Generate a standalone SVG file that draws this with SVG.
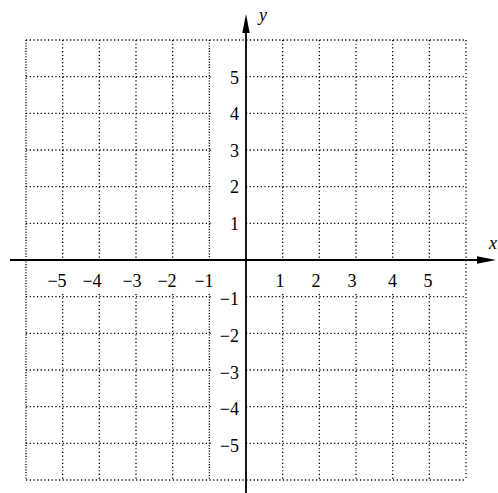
<svg xmlns="http://www.w3.org/2000/svg" width="498" height="493" viewBox="0 0 498 493">
<style>
.g{stroke:#000;stroke-width:1.3;stroke-dasharray:1.2 2.47;fill:none}
.gd{stroke:#000;stroke-width:1.3;stroke-dasharray:1.1 1.6;fill:none}
.ax{stroke:#000;stroke-width:1.8;fill:none}
text{font-family:'Liberation Serif','DejaVu Serif',serif;font-size:18px;fill:#000}
.tx{text-anchor:middle}
.ty{text-anchor:end}
.it{font-style:italic}
</style>
<rect width="498" height="493" fill="#fff"/>
<g id="grid">
<path class="g" d="M26,40H466M26,480H466"/>
<path class="g" d="M26,76.67H212M26,113.33H212M26,150H212M26,186.67H212M26,223.33H212M26,296.67H212M26,333.33H212M26,370H212M26,406.67H212M26,443.33H212"/>
<path class="g" d="M246,76.67H466M246,113.33H466M246,150H466M246,186.67H466M246,223.33H466M246,296.67H466M246,333.33H466M246,370H466M246,406.67H466M246,443.33H466"/>
<path class="gd" d="M26,40V480"/>
<path class="g" d="M466,40V480"/>
<path class="g" d="M62.67,40V260M99.33,40V260M136,40V260M172.67,40V260M282.67,40V260M319.33,40V260M356,40V260M392.67,40V260M429.33,40V260"/>
<path class="g" d="M62.67,294V480M99.33,294V480M136,294V480M172.67,294V480M282.67,294V480M319.33,294V480M356,294V480M392.67,294V480M429.33,294V480"/>
<path class="gd" d="M209.33,40V260M209.33,294V480"/>
</g>
<g id="axes">
<path class="ax" d="M10,260H480"/>
<path class="ax" d="M246,30V493"/>
<polygon points="496,260 477,256.3 477,263.7" fill="#000"/>
<polygon points="246,14 242.3,33 249.7,33" fill="#000"/>
</g>
<g id="axis-labels" font-family="'Liberation Serif', serif">
<text class="it" x="259" y="21">y</text>
<text class="it" x="489" y="249">x</text>
</g>
<g id="x-ticks" font-family="'Liberation Serif', serif">
<text class="tx" x="57" y="287">−5</text>
<text class="tx" x="92" y="287">−4</text>
<text class="tx" x="132" y="287">−3</text>
<text class="tx" x="167" y="287">−2</text>
<text class="tx" x="204" y="287">−1</text>
<text class="tx" x="280" y="287">1</text>
<text class="tx" x="316" y="287">2</text>
<text class="tx" x="352" y="287">3</text>
<text class="tx" x="392.5" y="287">4</text>
<text class="tx" x="428" y="287">5</text>
</g>
<g id="y-ticks" font-family="'Liberation Serif', serif">
<text class="ty" x="239" y="83.5">5</text>
<text class="ty" x="239" y="120">4</text>
<text class="ty" x="239" y="156.5">3</text>
<text class="ty" x="239" y="193">2</text>
<text class="ty" x="239" y="230">1</text>
<text class="ty" x="239" y="305">−1</text>
<text class="ty" x="239" y="341.5">−2</text>
<text class="ty" x="239" y="378.5">−3</text>
<text class="ty" x="239" y="415">−4</text>
<text class="ty" x="239" y="452">−5</text>
</g>
</svg>
